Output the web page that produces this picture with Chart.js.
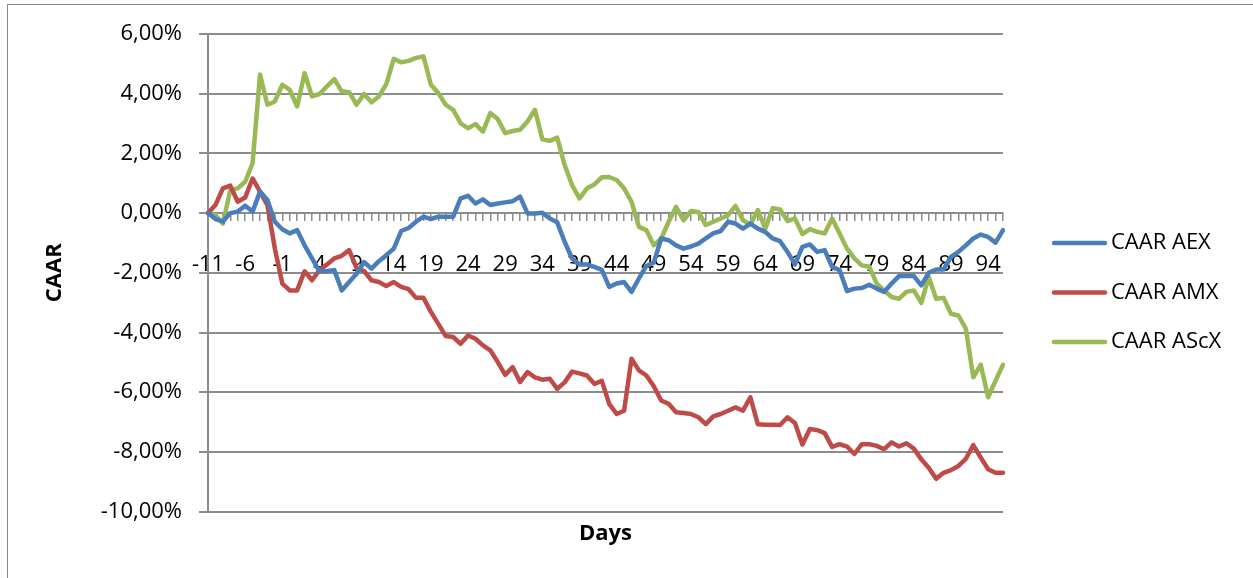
<!DOCTYPE html>
<html>
<head>
<meta charset="utf-8">
<script src="https://cdn.jsdelivr.net/npm/chart.js@4.4.1/dist/chart.umd.min.js"></script>
<style>
  body { margin: 0; background: #fff; }
  #wrap { position: relative; width: 1253px; height: 578px; overflow: hidden; }
  #frame { position: absolute; left: 7px; top: 4px; width: 1250px; height: 600px; border: 1.5px solid #8c8c8c; box-sizing: border-box; }
  canvas { position: absolute; left: 0; top: 0; }
</style>
</head>
<body>
<div id="wrap">
  <div id="frame"></div>
  <canvas id="myChart" width="1253" height="578"></canvas>
</div>
<script>
// dias relativos ao evento
const days = [];
for (let d = -11; d <= 96; d++) days.push(d);

// CAAR em %
const caarAEX = [
  0, -0.2, -0.28, 0.0, 0.05, 0.25, 0.05, 0.72, 0.44, -0.29,
  -0.54, -0.68, -0.57, -1.08, -1.52, -1.95, -1.94, -1.91, -2.59, -2.31,
  -2.03, -1.64, -1.86, -1.61, -1.41, -1.19, -0.6, -0.5, -0.29, -0.12,
  -0.2, -0.12, -0.12, -0.12, 0.49, 0.58, 0.32, 0.46, 0.27, 0.32,
  0.36, 0.4, 0.55, -0.01, -0.01, 0.01, -0.18, -0.31, -0.96, -1.52,
  -1.72, -1.72, -1.8, -1.9, -2.47, -2.36, -2.31, -2.64, -2.19, -1.77,
  -1.66, -0.85, -0.91, -1.08, -1.19, -1.12, -1.02, -0.85, -0.68, -0.6,
  -0.29, -0.35, -0.52, -0.35, -0.52, -0.63, -0.85, -0.94, -1.3, -1.72,
  -1.13, -1.05, -1.3, -1.24, -1.8, -1.91, -2.61, -2.53, -2.51, -2.4,
  -2.53, -2.64, -2.36, -2.11, -2.11, -2.11, -2.42, -2.0, -1.89, -1.89,
  -1.47, -1.3, -1.08, -0.85, -0.72, -0.8, -0.99, -0.57
];

const caarAMX = [
  0, 0.27, 0.83, 0.92, 0.38, 0.52, 1.16, 0.72, 0.27, -1.19,
  -2.36, -2.59, -2.59, -1.95, -2.25, -1.91, -1.72, -1.52, -1.43, -1.24,
  -1.84, -1.94, -2.25, -2.31, -2.44, -2.31, -2.47, -2.55, -2.84, -2.84,
  -3.31, -3.71, -4.12, -4.15, -4.38, -4.1, -4.21, -4.43, -4.6, -4.99,
  -5.42, -5.16, -5.66, -5.33, -5.5, -5.58, -5.55, -5.89, -5.67, -5.31,
  -5.37, -5.44, -5.72, -5.62, -6.39, -6.73, -6.62, -4.88, -5.27, -5.44,
  -5.8, -6.28, -6.39, -6.67, -6.7, -6.73, -6.84, -7.07, -6.81, -6.73,
  -6.62, -6.51, -6.62, -6.17, -7.07, -7.09, -7.09, -7.1, -6.84, -7.03,
  -7.75, -7.23, -7.27, -7.37, -7.83, -7.74, -7.82, -8.07, -7.74, -7.74,
  -7.8, -7.91, -7.68, -7.82, -7.71, -7.89, -8.25, -8.53, -8.9, -8.7,
  -8.61, -8.47, -8.23, -7.77, -8.19, -8.58, -8.7, -8.7
];

const caarASCX = [
  0, -0.07, -0.35, 0.77, 0.83, 1.05, 1.67, 4.64, 3.63, 3.74,
  4.3, 4.13, 3.57, 4.69, 3.91, 3.99, 4.24, 4.49, 4.08, 4.05,
  3.63, 3.99, 3.71, 3.91, 4.32, 5.17, 5.05, 5.1, 5.2, 5.25,
  4.3, 4.02, 3.63, 3.46, 3.01, 2.84, 2.98, 2.73, 3.35, 3.15,
  2.68, 2.75, 2.79, 3.07, 3.46, 2.47, 2.42, 2.53, 1.61, 0.94,
  0.49, 0.83, 0.96, 1.2, 1.21, 1.11, 0.83, 0.38, -0.46, -0.57,
  -1.08, -0.85, -0.29, 0.21, -0.24, 0.07, 0.04, -0.4, -0.29, -0.18,
  -0.07, 0.24, -0.24, -0.38, 0.1, -0.52, 0.16, 0.12, -0.27, -0.18,
  -0.7, -0.54, -0.63, -0.68, -0.18, -0.68, -1.19, -1.52, -1.75, -1.8,
  -2.36, -2.59, -2.81, -2.87, -2.64, -2.59, -3.01, -2.14, -2.87, -2.84,
  -3.37, -3.43, -3.87, -5.5, -5.08, -6.17, -5.61, -5.08
];

const seriesNames = ['CAAR AEX', 'CAAR AMX', 'CAAR AScX'];
const seriesColors = ['#4a7ebb', '#be4b48', '#98b954'];

const yTicks = [-10, -8, -6, -4, -2, 0, 2, 4, 6];

const FONT = "'Open Sans', sans-serif";
const GRID = '#8c8c8c';

// legenda desenhada à direita do gráfico
const legendaDireita = {
  id: 'legendaDireita',
  afterDraw(chart) {
    const ctx = chart.ctx;
    ctx.save();
    ctx.font = '22px ' + FONT;
    ctx.textBaseline = 'middle';
    ctx.textAlign = 'left';
    chart.data.datasets.forEach((ds, i) => {
      const y = 243 + i * 49.5;
      ctx.strokeStyle = ds.borderColor;
      ctx.lineWidth = 4.5;
      ctx.lineCap = 'round';
      ctx.beginPath();
      ctx.moveTo(1054, y);
      ctx.lineTo(1105, y);
      ctx.stroke();
      ctx.fillStyle = '#000';
      ctx.fillText(ds.label, 1111, y);
    });
    ctx.restore();
  }
};

const ctx = document.getElementById('myChart').getContext('2d');

new Chart(ctx, {
  type: 'line',
  data: {
    labels: days,
    datasets: [caarAEX, caarAMX, caarASCX].map((serie, i) => ({
      label: seriesNames[i],
      data: serie,
      borderColor: seriesColors[i],
      backgroundColor: seriesColors[i],
      borderWidth: 4.5,
      pointRadius: 0,
      tension: 0,
      fill: false,
      borderJoinStyle: 'round',
      borderCapStyle: 'round'
    }))
  },
  options: {
    responsive: false,
    animation: false,
    devicePixelRatio: 1,
    layout: { padding: { left: 38, top: 34, right: 250, bottom: 27 } },
    plugins: {
      legend: { display: false },
      tooltip: { enabled: false }
    },
    scales: {
      x: {
        type: 'category',
        position: { y: 0 },
        offset: false,
        grid: { drawOnChartArea: false, drawTicks: true, tickLength: 7, color: GRID, lineWidth: 1.5 },
        border: { display: true, color: GRID, width: 2 },
        ticks: {
          autoSkip: false,
          maxRotation: 0,
          padding: 31,
          color: '#000',
          font: { family: FONT, size: 22 },
          callback: function (value, index) {
            return index % 5 === 0 ? String(days[index]) : '';
          }
        }
      },
      x2: {
        type: 'category',
        position: 'bottom',
        offset: false,
        grid: { display: false },
        border: { display: false },
        ticks: { display: false },
        title: {
          display: true,
          text: 'Days',
          color: '#000',
          font: { family: FONT, size: 22, weight: 'bold' },
          padding: { top: 1, bottom: 4 }
        }
      },
      y: {
        min: -10,
        max: 6,
        afterBuildTicks: function (scale) {
          scale.ticks = yTicks.map(v => ({ value: v }));
        },
        afterFit: function (scale) {
          scale.width = 170;
        },
        grid: { color: GRID, lineWidth: 2, tickLength: 9 },
        border: { display: true, color: GRID, width: 2 },
        ticks: {
          padding: 17,
          color: '#000',
          font: { family: FONT, size: 22 },
          callback: function (v) {
            return v.toFixed(2).replace('.', ',') + '%';
          }
        },
        title: {
          display: true,
          text: 'CAAR',
          color: '#000',
          font: { family: FONT, size: 22, weight: 'bold' },
          padding: { top: 4, bottom: 4 }
        }
      }
    }
  },
  plugins: [legendaDireita]
});
</script>
</body>
</html>
